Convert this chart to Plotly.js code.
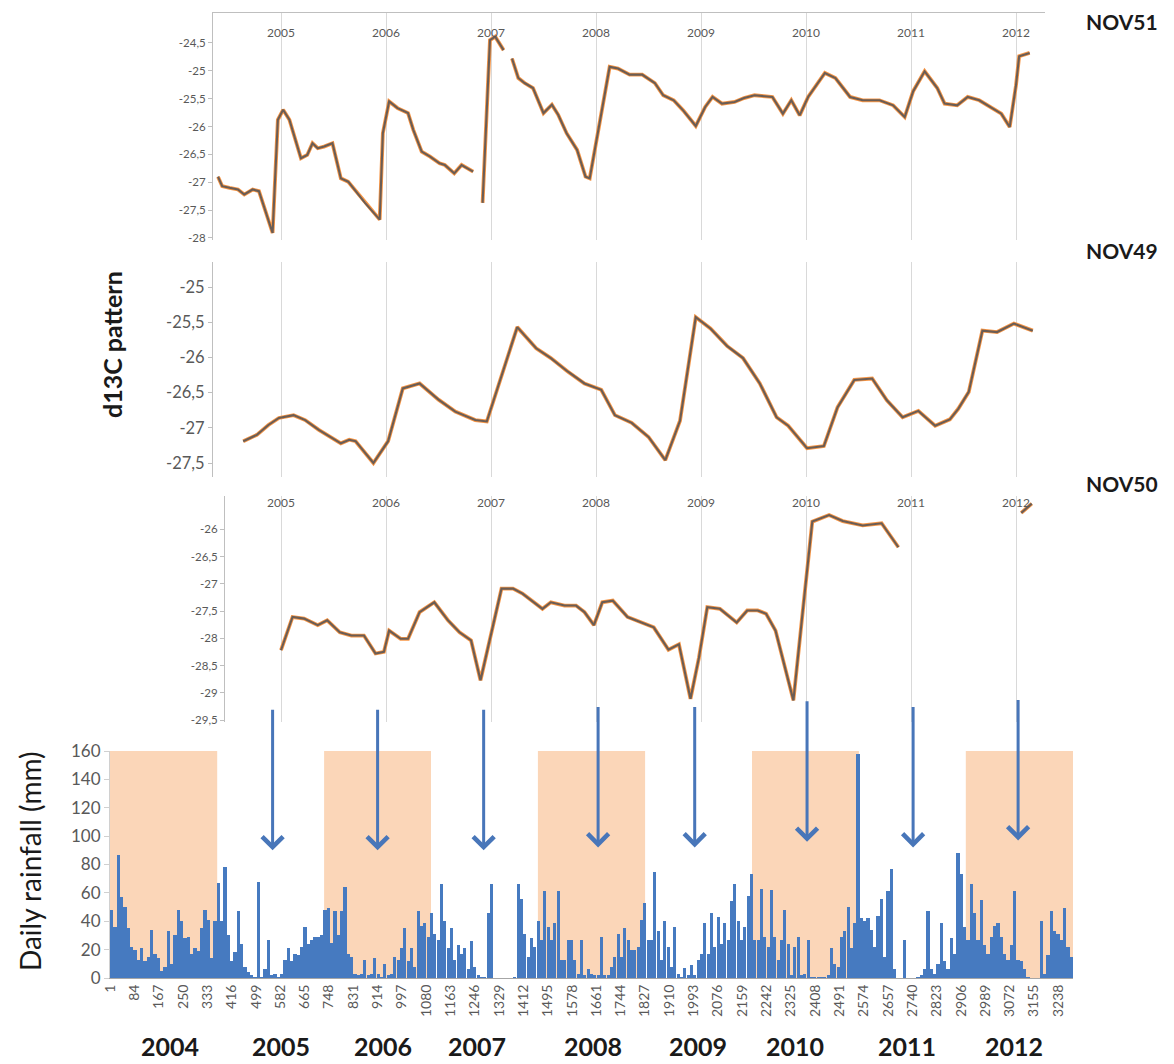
<!DOCTYPE html>
<html>
<head>
<meta charset="utf-8">
<script src="https://cdn.plot.ly/plotly-3.0.1.min.js"></script>
<style>
  html, body { margin: 0; padding: 0; background: #ffffff; }
  #chart { width: 1174px; height: 1064px; }
</style>
</head>
<body>
<div id="chart"></div>
<script>
// ---- d13C series (decimal year, per mil) ----
const nov51Year = [2004.40, 2004.44, 2004.51, 2004.59, 2004.65, 2004.73, 2004.79, 2004.92, 2004.97, 2005.02,
  2005.08, 2005.14, 2005.19, 2005.25, 2005.30, 2005.35, 2005.41, 2005.49, 2005.57, 2005.64,
  2005.70, 2005.80, 2005.94, 2005.97, 2006.03, 2006.11, 2006.21, 2006.26, 2006.34, 2006.42,
  2006.51, 2006.56, 2006.65, 2006.72, 2006.83, 2006.875,
  2006.92, 2006.99, 2007.04, 2007.12, 2007.16,
  2007.20, 2007.26, 2007.32, 2007.40, 2007.50, 2007.58, 2007.64, 2007.72, 2007.82, 2007.90,
  2007.94, 2008.13, 2008.21, 2008.32, 2008.44, 2008.56, 2008.64, 2008.74, 2008.83, 2008.95,
  2009.04, 2009.11, 2009.20, 2009.32, 2009.41, 2009.51, 2009.68, 2009.78, 2009.86, 2009.94,
  2010.02, 2010.18, 2010.28, 2010.42, 2010.54, 2010.70, 2010.83, 2010.94, 2011.02, 2011.13,
  2011.25, 2011.32, 2011.44, 2011.54, 2011.65, 2011.76, 2011.86, 2011.94, 2012.00, 2012.03, 2012.13];
const nov51Val = [-26.90, -27.07, -27.10, -27.13, -27.22, -27.13, -27.16, -27.91, -25.88, -25.70,
  -25.88, -26.24, -26.57, -26.51, -26.30, -26.39, -26.36, -26.30, -26.93, -26.99,
  -27.13, -27.37, -27.67, -26.12, -25.55, -25.67, -25.76, -26.06, -26.45, -26.54,
  -26.66, -26.69, -26.84, -26.69, -26.81, null,
  -27.37, -24.45, -24.39, -24.63, null,
  -24.78, -25.13, -25.22, -25.31, -25.76, -25.61, -25.79, -26.12, -26.42, -26.90,
  -26.93, -24.93, -24.96, -25.07, -25.07, -25.22, -25.44, -25.53, -25.71, -25.99,
  -25.65, -25.47, -25.59, -25.56, -25.49, -25.44, -25.47, -25.77, -25.53, -25.80,
  -25.47, -25.04, -25.13, -25.47, -25.53, -25.53, -25.62, -25.83, -25.37, -25.01,
  -25.31, -25.59, -25.62, -25.47, -25.53, -25.65, -25.77, -26.01, -25.26, -24.74, -24.68];

const nov49Year = [2004.64, 2004.77, 2004.88, 2004.98, 2005.12, 2005.23, 2005.36, 2005.46, 2005.57, 2005.65,
  2005.71, 2005.88, 2006.02, 2006.16, 2006.32, 2006.50, 2006.66, 2006.85, 2006.96, 2007.25,
  2007.43, 2007.57, 2007.73, 2007.89, 2008.05, 2008.18, 2008.34, 2008.50, 2008.66, 2008.80,
  2008.95, 2009.09, 2009.25, 2009.40, 2009.56, 2009.72, 2009.83, 2010.01, 2010.17, 2010.30,
  2010.46, 2010.63, 2010.77, 2010.92, 2011.07, 2011.23, 2011.37, 2011.45, 2011.55, 2011.68,
  2011.82, 2011.98, 2012.16];
const nov49Val = [-27.19, -27.10, -26.96, -26.86, -26.82, -26.89, -27.03, -27.12, -27.22, -27.17,
  -27.19, -27.50, -27.19, -26.44, -26.37, -26.60, -26.77, -26.89, -26.91, -25.57,
  -25.87, -26.01, -26.20, -26.37, -26.46, -26.82, -26.93, -27.13, -27.46, -26.90,
  -25.43, -25.59, -25.84, -26.01, -26.37, -26.85, -26.97, -27.29, -27.26, -26.71,
  -26.32, -26.30, -26.61, -26.85, -26.76, -26.97, -26.88, -26.73, -26.49, -25.62,
  -25.64, -25.52, -25.62];

const nov50Year = [2005.00, 2005.11, 2005.22, 2005.35, 2005.44, 2005.56, 2005.67, 2005.79, 2005.90, 2005.98,
  2006.03, 2006.14, 2006.21, 2006.32, 2006.46, 2006.59, 2006.70, 2006.81, 2006.90, 2007.00,
  2007.10, 2007.21, 2007.30, 2007.49, 2007.57, 2007.70, 2007.81, 2007.89, 2007.98, 2008.06,
  2008.16, 2008.30, 2008.45, 2008.55, 2008.69, 2008.79, 2008.90, 2008.98, 2009.06, 2009.18,
  2009.34, 2009.44, 2009.54, 2009.62, 2009.71, 2009.88, 2009.97, 2010.06, 2010.22, 2010.35,
  2010.54, 2010.72, 2010.88, 2011.50,
  2012.05, 2012.15];
const nov50Val = [-28.22, -27.61, -27.64, -27.76, -27.67, -27.89, -27.95, -27.95, -28.28, -28.25,
  -27.86, -28.01, -28.01, -27.52, -27.34, -27.67, -27.89, -28.04, -28.77, -27.95,
  -27.09, -27.09, -27.18, -27.46, -27.34, -27.40, -27.40, -27.52, -27.76, -27.34,
  -27.31, -27.61, -27.72, -27.80, -28.21, -28.11, -29.11, -28.36, -27.43, -27.46,
  -27.71, -27.49, -27.49, -27.55, -27.86, -29.14, -27.49, -25.86, -25.74, -25.85,
  -25.93, -25.89, -26.33, null,
  -25.70, -25.53];

// ---- daily rainfall, read as consecutive ~11-day periods from day 1 (2004) to day 3288 (2012) ----
const rainMm = [
  48, 36, 87, 57, 50, 35, 22, 20, 13, 21,
  12, 15, 34, 17, 14, 5, 8, 33, 10, 30,
  48, 40, 28, 29, 17, 21, 19, 35, 48, 41,
  14, 40, 67, 40, 78, 30, 12, 18, 47, 24,
  8, 4, 2, 1, 68, 1, 6, 27, 2, 3,
  1, 3, 13, 21, 12, 17, 16, 22, 36, 24,
  27, 29, 29, 30, 48, 49, 25, 47, 30, 47,
  64, 17, 15, 3, 2, 3, 13, 2, 3, 14,
  3, 1, 10, 2, 3, 15, 13, 21, 35, 12,
  21, 8, 47, 37, 39, 29, 46, 31, 27, 66,
  40, 21, 35, 13, 23, 17, 21, 6, 26, 8,
  2, 1, 1, 46, 66, 0, 0, 0, 0, 0,
  0, 1, 66, 56, 31, 15, 28, 22, 40, 27,
  61, 36, 27, 39, 61, 13, 13, 27, 27, 13,
  3, 27, 2, 6, 3, 2, 2, 29, 2, 2,
  8, 15, 31, 15, 35, 27, 20, 20, 22, 41,
  53, 27, 27, 75, 33, 13, 40, 22, 8, 36,
  3, 1, 7, 2, 9, 2, 13, 17, 39, 17,
  46, 22, 43, 24, 39, 27, 54, 66, 40, 27,
  36, 58, 73, 27, 27, 63, 29, 22, 62, 29,
  13, 27, 48, 24, 2, 22, 29, 2, 3, 27,
  1, 1, 1, 1, 1, 2, 21, 10, 8, 29,
  33, 50, 21, 39, 158, 42, 40, 42, 34, 22,
  44, 56, 15, 61, 77, 6, 0, 0, 27, 0,
  0, 0, 1, 2, 6, 47, 6, 3, 10, 39,
  12, 6, 28, 17, 88, 73, 36, 27, 66, 46,
  27, 55, 23, 17, 29, 37, 39, 29, 17, 13,
  23, 61, 13, 12, 6, 1, 0, 0, 0, 40,
  3, 16, 47, 33, 31, 27, 49, 22, 15
];
const totalDays = 3288;

// day-number tick labels and year captions of the rainfall axis
const dayTicks = [1, 84, 167, 250, 333, 416, 499, 582, 665, 748, 831, 914, 997, 1080, 1163, 1246, 1329,
  1412, 1495, 1578, 1661, 1744, 1827, 1910, 1993, 2076, 2159, 2242, 2325, 2408, 2491, 2574, 2657,
  2740, 2823, 2906, 2989, 3072, 3155, 3238];
const yearCaptions = ['2004', '2005', '2006', '2007', '2008', '2009', '2010', '2011', '2012'];
const yearCaptionDay = [205, 584, 931, 1255, 1650, 2008, 2338, 2720, 3088];

// shaded (even) years, as day numbers
const shadeStartDay = [1, 732, 1462, 2193, 2923];
const shadeEndDay = [366, 1096, 1827, 2557, 3288];

// arrows linking d13C minima to the rainfall record
const arrowYear = [2004.92, 2005.92, 2006.93, 2008.02, 2008.94, 2010.01, 2011.02, 2012.02];
const arrowTipMm = [90, 90, 90, 92, 92, 96, 92, 97];

// year gridlines and tick labels of the isotope panels
const yearTicks = [2005, 2006, 2007, 2008, 2009, 2010, 2011, 2012];
const yearTickText = ['2005', '2006', '2007', '2008', '2009', '2010', '2011', '2012'];
const nov51Ticks = [-28, -27.5, -27, -26.5, -26, -25.5, -25, -24.5, -24];
const nov51TickText = ['-28', '-27,5', '-27', '-26,5', '-26', '-25,5', '-25', '-24,5', '-24'];
const nov49Ticks = [-27.5, -27, -26.5, -26, -25.5, -25];
const nov49TickText = ['-27,5', '-27', '-26,5', '-26', '-25,5', '-25'];
const nov50Ticks = [-29.5, -29, -28.5, -28, -27.5, -27, -26.5, -26, -25.5];
const nov50TickText = ['-29,5', '-29', '-28,5', '-28', '-27,5', '-27', '-26,5', '-26', '-25,5'];

// ---- geometry helpers (figure pixels -> paper fractions) ----
const W = 1174, H = 1064;
const px = v => v / W;
const py = v => 1 - v / H;
// year -> pixel mapping shared by the isotope panels
const YEAR0_PX = 281, PX_PER_YEAR = 105;
const yearAt = p => 2005 + (p - YEAR0_PX) / PX_PER_YEAR;

const FONT = 'Lato, "Open Sans", sans-serif';
const tickGrey = '#595959';
const gridGrey = '#d9d9d9';
const axisGrey = '#bfbfbf';

// rainfall bar positions (period centres, in day numbers)
const binDays = totalDays / rainMm.length;
const rainX = rainMm.map((_, i) => 0.5 + (i + 0.5) * binDays);

function isoTraces(xs, ys, xa, ya) {
  return [
    { type: 'scatter', mode: 'lines', x: xs, y: ys, xaxis: xa, yaxis: ya, connectgaps: false,
      line: { color: 'rgb(247,150,70)', width: 3.8 }, hoverinfo: 'skip', showlegend: false },
    { type: 'scatter', mode: 'lines', x: xs, y: ys, xaxis: xa, yaxis: ya, connectgaps: false,
      line: { color: 'rgba(98,90,86,0.95)', width: 2.1 }, showlegend: false }
  ];
}

const traces = [
  ...isoTraces(nov51Year, nov51Val, 'x', 'y'),
  ...isoTraces(nov49Year, nov49Val, 'x2', 'y2'),
  ...isoTraces(nov50Year, nov50Val, 'x3', 'y3'),
  { type: 'bar', x: rainX, y: rainMm, xaxis: 'x4', yaxis: 'y4', width: binDays * 0.95,
    marker: { color: 'rgb(70,122,192)', line: { width: 0 } }, showlegend: false }
];

const smallTick = { family: FONT, size: 11.5, color: tickGrey };

function yearAxis(left, right, extra) {
  return Object.assign({
    domain: [px(left), px(right)],
    range: [yearAt(left), yearAt(right)],
    tickvals: yearTicks, ticktext: yearTickText,
    showgrid: true, gridcolor: gridGrey, gridwidth: 1,
    zeroline: false, ticks: '', fixedrange: true,
    tickfont: { family: FONT, size: 12, color: tickGrey }
  }, extra);
}

function label(text, x, y, size, angle) {
  return { text: text, xref: 'paper', yref: 'paper', x: px(x), y: py(y), xanchor: 'center',
    yanchor: 'middle', textangle: angle || 0, showarrow: false,
    font: { size: size, color: '#1a1a1a' } };
}

// NOV51 value scale: 55.75 px per unit, -24 sits at 15 px
const n51Pad = 0.03;

const layout = {
  width: W, height: H,
  margin: { l: 0, r: 0, t: 0, b: 0 },
  paper_bgcolor: '#ffffff', plot_bgcolor: 'rgba(0,0,0,0)',
  font: { family: FONT, color: '#222222' },
  bargap: 0,
  // NOV51
  xaxis: yearAxis(213, 1045, { anchor: 'y', side: 'top', showline: true, linecolor: axisGrey,
    ticklabelposition: 'inside', ticklabelstandoff: 15 }),
  yaxis: { domain: [py(238 + n51Pad * 55.75), py(15 - n51Pad * 55.75)], range: [-28 - n51Pad, -24 + n51Pad],
    anchor: 'x', tickvals: nov51Ticks, ticktext: nov51TickText, showgrid: false, zeroline: false,
    showline: true, linecolor: axisGrey, ticks: 'outside', ticklen: 4, tickcolor: axisGrey,
    tickfont: smallTick },
  // NOV49
  xaxis2: yearAxis(213, 1045, { anchor: 'y2', showticklabels: false, showline: false }),
  yaxis2: { domain: [py(477), py(262)], range: [-27.5 - 14 / 70.4, -25 + 25 / 70.4], anchor: 'x2',
    tickvals: nov49Ticks, ticktext: nov49TickText, showgrid: false, zeroline: false,
    showline: true, linecolor: axisGrey, ticks: 'outside', ticklen: 4, tickcolor: axisGrey,
    tickfont: { family: FONT, size: 16.5, color: tickGrey } },
  // NOV50
  xaxis3: yearAxis(225, 1045, { anchor: 'y3', side: 'top', showline: false,
    ticklabelposition: 'inside', ticklabelstandoff: 0 }),
  yaxis3: { domain: [py(722), py(496)], range: [-29.5 - 2 / 54.5, -25.5 + 6 / 54.5], anchor: 'x3',
    tickvals: nov50Ticks, ticktext: nov50TickText, showgrid: false, zeroline: false,
    showline: true, linecolor: axisGrey, ticks: 'outside', ticklen: 4, tickcolor: axisGrey,
    tickfont: smallTick },
  // rainfall
  xaxis4: { domain: [px(110), px(1073)], range: [0.5, totalDays + 0.5], anchor: 'y4',
    tickvals: dayTicks, ticktext: dayTicks.map(String), tickangle: -90,
    showgrid: false, zeroline: false, showline: true, linecolor: '#a6a6a6', ticks: '',
    tickfont: { family: FONT, size: 14, color: tickGrey } },
  yaxis4: { domain: [py(978), py(751)], range: [0, 160], anchor: 'x4',
    tickvals: [0, 20, 40, 60, 80, 100, 120, 140, 160], showgrid: false, zeroline: false,
    showline: true, linecolor: '#d0d0d0', ticks: 'outside', ticklen: 5, tickcolor: '#d0d0d0',
    tickfont: { family: FONT, size: 17, color: tickGrey } },
  shapes: shadeStartDay.map((d, i) => ({
    type: 'rect', xref: 'x4', yref: 'y4', x0: d - 0.5, x1: shadeEndDay[i] + 0.5, y0: 0, y1: 160,
    fillcolor: 'rgb(251,214,184)', line: { width: 0 }, layer: 'below'
  })),
  annotations: [
    label('<b>NOV51</b>', 1122, 22, 21),
    label('<b>NOV49</b>', 1122, 251, 21),
    label('<b>NOV50</b>', 1122, 483, 21),
    label('<b>d13C pattern</b>', 112, 345, 25, -90),
    label('Daily rainfall (mm)', 30, 862, 28, -90),
    ...yearCaptions.map((t, i) => ({
      text: '<b>' + t + '</b>', xref: 'x4', yref: 'paper', x: yearCaptionDay[i], y: py(1046),
      xanchor: 'center', yanchor: 'middle',
      showarrow: false, font: { size: 25, color: '#1a1a1a' }
    })),
    ...arrowYear.map((yr, i) => ({
      xref: 'x3', yref: 'y4', x: yr, y: arrowTipMm[i], ax: 0, ay: -142, axref: 'pixel', ayref: 'pixel',
      text: '', showarrow: true, arrowhead: 4, arrowsize: 1.35, arrowwidth: 3,
      arrowcolor: 'rgb(72,118,185)', standoff: 0
    }))
  ]
};

Plotly.newPlot('chart', traces, layout, { staticPlot: true, displayModeBar: false });
</script>
</body>
</html>
